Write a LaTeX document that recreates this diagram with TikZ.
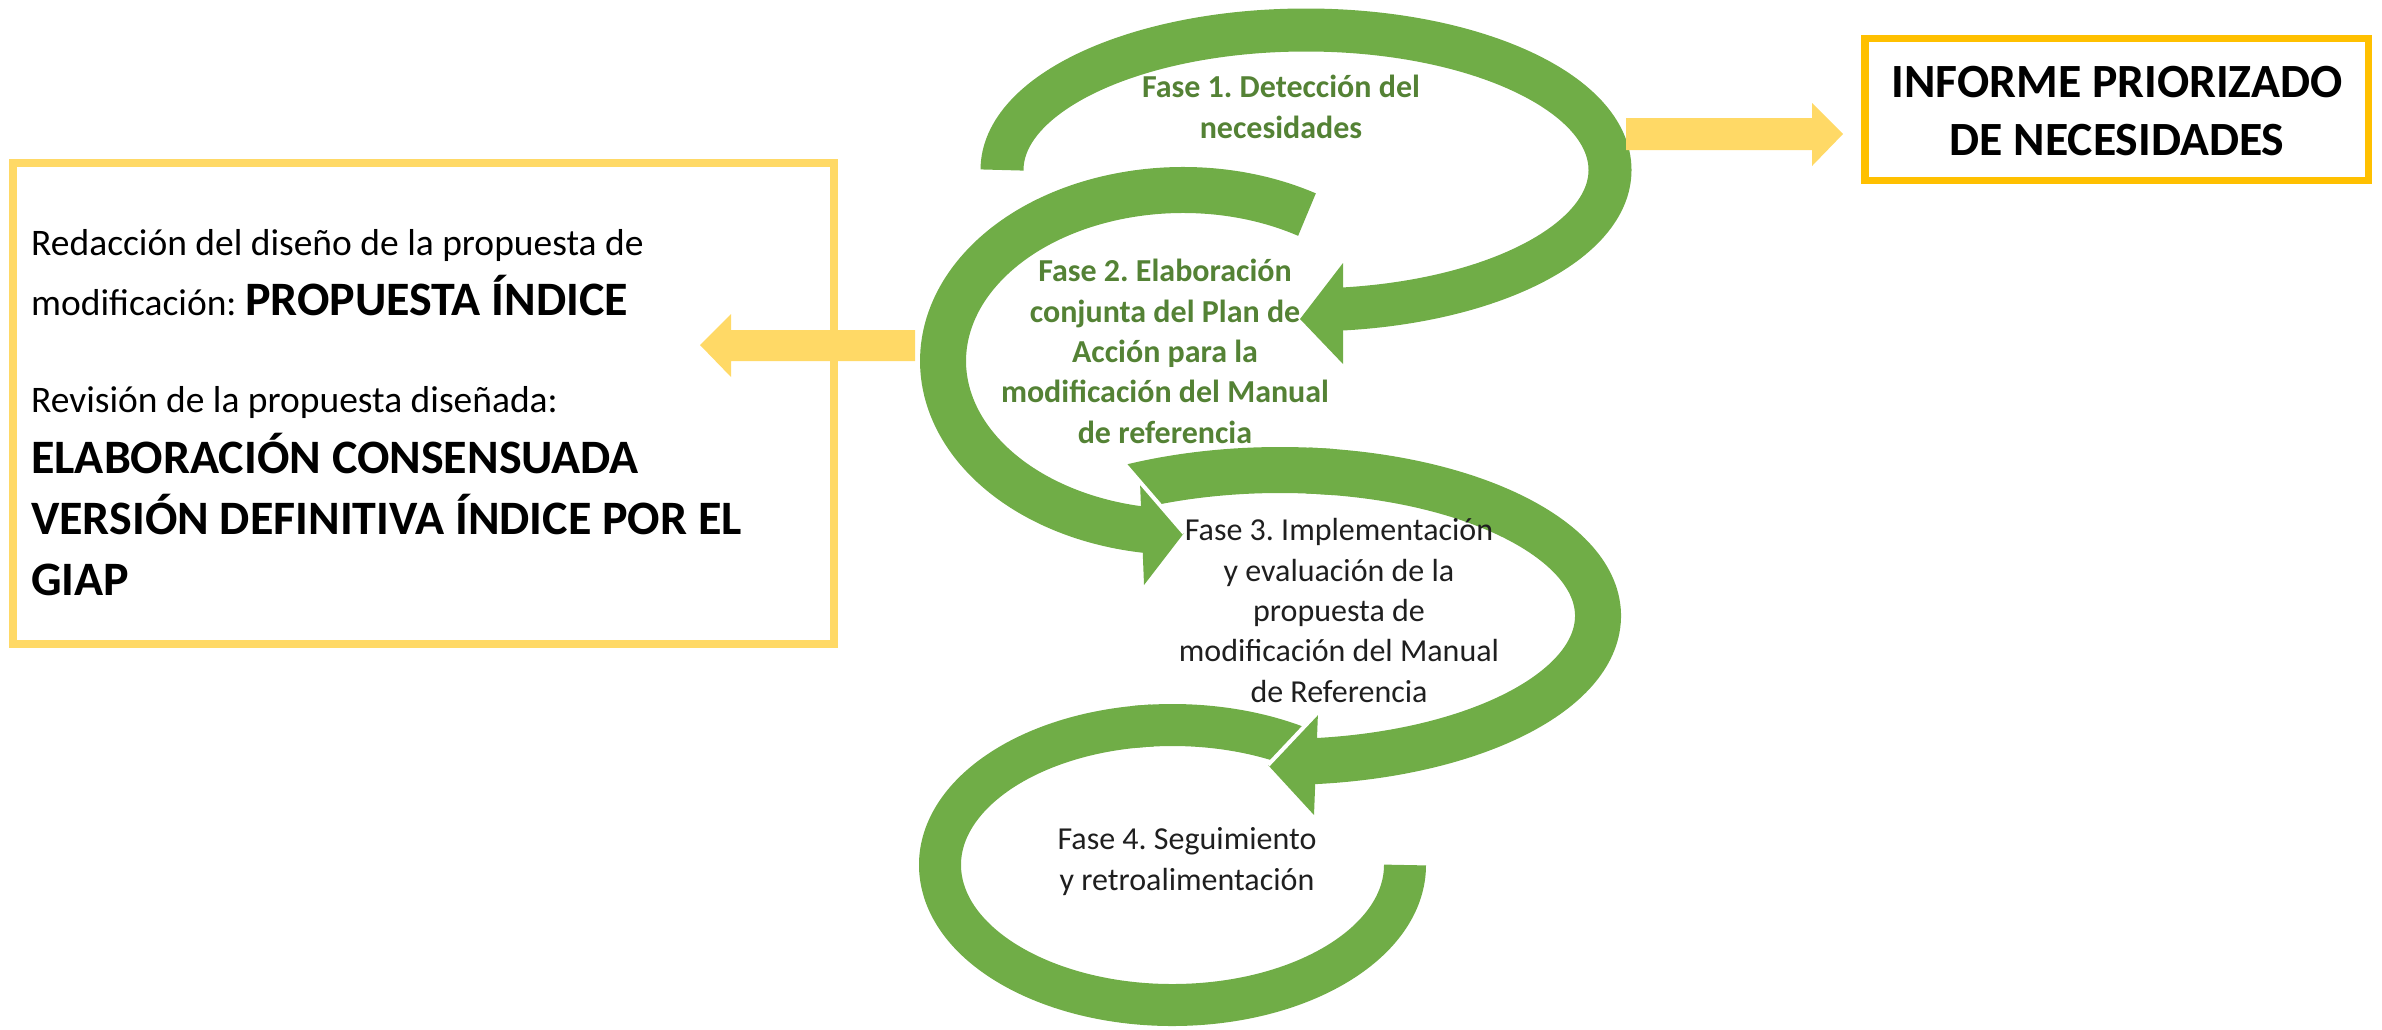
\documentclass[tikz,border=0pt]{standalone}
\usepackage{fontspec}
\setmainfont{Carlito}
\definecolor{grn}{HTML}{70AD47}
\definecolor{grntxt}{HTML}{548235}
\definecolor{ylw}{HTML}{FFD966}
\definecolor{orng}{HTML}{FFC000}
\begin{document}
\frenchspacing
\begin{tikzpicture}[x=1pt,y=1pt,
  band/.style={draw=grn, line cap=butt},
  head/.style={fill=grn},
  gapline/.style={draw=white, line width=4pt},
  yarrow/.style={fill=ylw},
  fasebold/.style={font=\fontsize{32}{40.3}\selectfont\bfseries, text=grntxt, align=center, inner sep=0pt},
  faseplain/.style={font=\fontsize{32}{40.3}\selectfont, text=black!88, align=center, inner sep=0pt},
  lefttxt/.style={font=\fontsize{37.5}{40}\selectfont, text=black, inner sep=0pt, anchor=base west},
  leftbold/.style={font=\fontsize{48}{50}\selectfont\bfseries, text=black, inner sep=0pt, anchor=base west},
  infotxt/.style={font=\fontsize{47.7}{58}\selectfont\bfseries, text=black, align=center, inner sep=0pt}
]
\useasboundingbox (0,0) rectangle (2382,-1029);

% ---- green spiral ----
% arc 4 (bottom)
\begin{scope}
  \clip (1818,-182) -- (818,-1242) -- (0,-1242) -- (0,100) -- (1818,100) -- cycle;
  \draw[band, line width=42pt] (1172.5,-865) ++(55:232.5 and 140) arc[start angle=55, end angle=100, x radius=232.5, y radius=140];
\end{scope}
\draw[band, line width=42pt] (1172.5,-865) ++(95:232.5 and 140) arc[start angle=95, end angle=360, x radius=232.5, y radius=140];
% arc 3
\begin{scope}
  \clip (640,98) -- (1684,-1113) -- (2500,-1113) -- (2500,98) -- cycle;
  \draw[band, line width=46pt] (1280,-616) ++(121:318 and 146) arc[start angle=121, end angle=80, x radius=318, y radius=146];
\end{scope}
\draw[band, line width=46pt] (1280,-616) ++(85:318 and 146) arc[start angle=85, end angle=-86, x radius=318, y radius=146];
% arc 2
\draw[band, line width=46pt] (1183,-361) ++(58.9:240 and 171) arc[start angle=58.9, end angle=263, x radius=240, y radius=171];
% arc 1 (top)
\draw[band, line width=43pt] (1306,-170) ++(180:304 and 140) arc[start angle=180, end angle=-85, x radius=304, y radius=140];

% arrowheads
\fill[head] (1343,-263) -- (1300,-319) -- (1343,-364) -- cycle;
\fill[head] (1140,-482) -- (1184,-533) -- (1144,-585) -- cycle;
\draw[gapline] (1115,-453) -- (1184,-533);
\fill[head] (1318,-712) -- (1268,-765) -- (1314,-815) -- cycle;
\draw[gapline] (1318,-712) -- (1268,-765);

% ---- phase texts ----
\node[fasebold, anchor=base] (f1) at (1281,-138) {Fase 1. Detección del\\necesidades};
\node[fasebold, anchor=base] (f2) at (1165,-443) {Fase 2. Elaboración\\conjunta del Plan de\\Acción para la\\modificación del Manual\\de referencia};
\node[faseplain, anchor=base] (f3) at (1339,-702) {Fase 3. Implementación\\y evaluación de la\\propuesta de\\modificación del Manual\\de Referencia};
\node[faseplain, anchor=base] (f4) at (1187,-890) {Fase 4. Seguimiento\\y retroalimentación};

% ---- informe box ----
\draw[orng, line width=7.5pt] (1865,-38.5) rectangle (2368.5,-180.5);
\node[infotxt, anchor=base] (inf) at (2117,-155) {INFORME PRIORIZADO\\DE NECESIDADES};
\fill[yarrow] (1626,-118) -- (1812,-118) -- (1812,-103) -- (1843,-134) -- (1812,-166) -- (1812,-150) -- (1626,-150) -- cycle;

% ---- left box ----
\draw[ylw, line width=8pt] (13,-163) rectangle (834,-644);
\fill[yarrow] (915,-330) -- (731,-330) -- (731,-314) -- (700,-345) -- (731,-377) -- (731,-361) -- (915,-361) -- cycle;
\node[lefttxt] (l1) at (31,-255) {Redacción del diseño de la propuesta de};
\node[lefttxt] (l2) at (31,-315) {modificación: {\fontsize{48}{50}\selectfont\bfseries PROPUESTA ÍNDICE}};
\node[lefttxt] (l3) at (31,-412) {Revisión de la propuesta diseñada:};
\node[leftbold] (l4) at (31,-473) {ELABORACIÓN CONSENSUADA};
\node[leftbold] (l5) at (31,-534) {VERSIÓN DEFINITIVA ÍNDICE POR EL};
\node[leftbold] (l6) at (31,-595) {GIAP};
\end{tikzpicture}
\end{document}
